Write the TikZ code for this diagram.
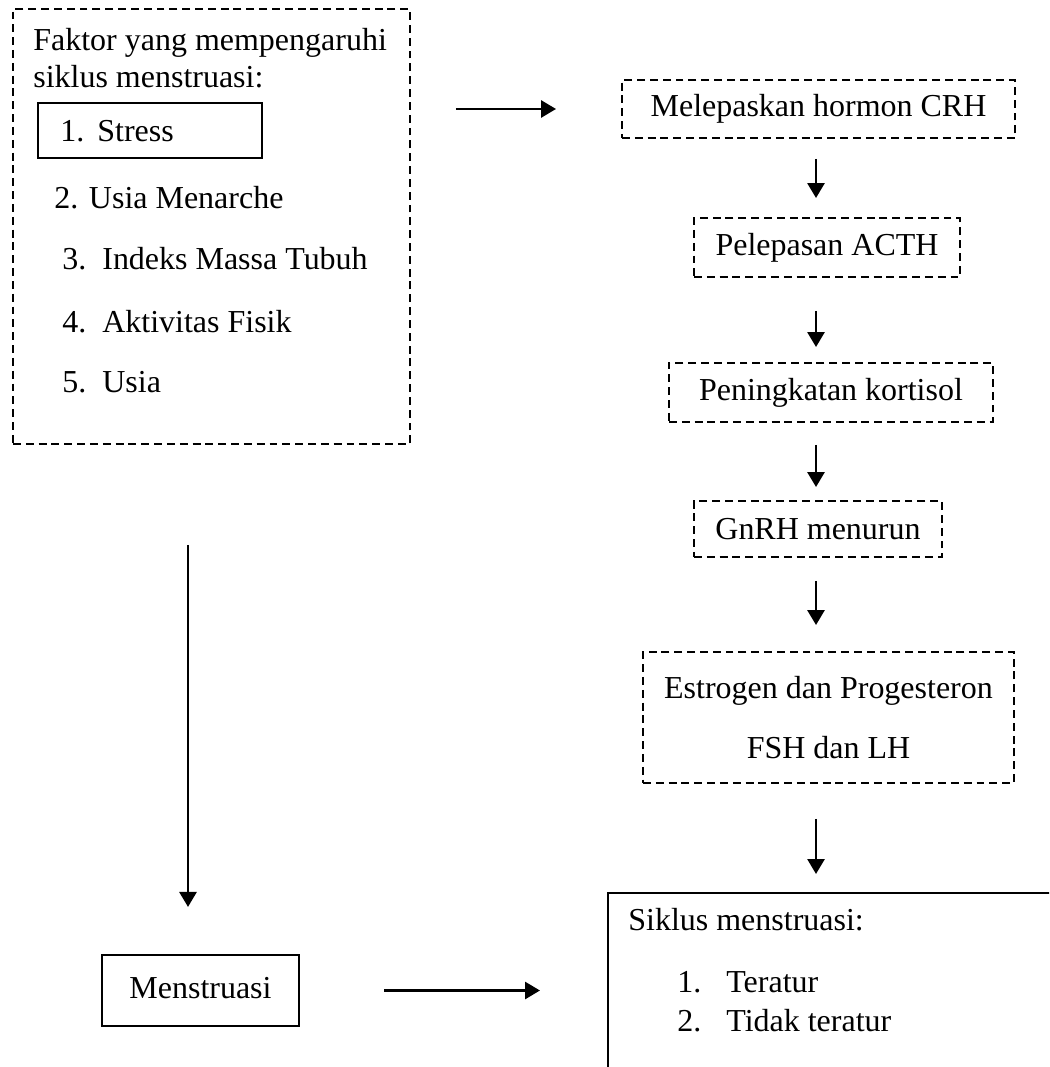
\documentclass[tikz,border=0pt]{standalone}
\usepackage{fontspec}
\setmainfont{Liberation Serif}
\usetikzlibrary{arrows.meta}

\begin{document}
\begin{tikzpicture}[font=\fontsize{18.2}{22}\selectfont,
  dbox/.style={draw, dash pattern=on 4.5pt off 2.8pt, line width=1.1pt, inner sep=0pt},
  sbox/.style={draw, line width=1.2pt, inner sep=0pt},
  txt/.style={anchor=base west, inner sep=0pt},
  arr/.style={line width=1.6pt, -{Triangle[length=0.3cm,width=0.34cm]}}]

\useasboundingbox (0,0) rectangle (20.98,-21.34);
\clip (0,0) rectangle (20.98,-21.34);

% factors
\node[dbox, minimum width=7.94cm, minimum height=8.7cm] (faktor) at (4.23,-4.53) {};
\node[txt] (ftitle1) at (0.66,-1.02) {Faktor yang mempengaruhi};
\node[txt] (ftitle2) at (0.66,-1.76) {siklus menstruasi:};
\node[sbox, minimum width=4.48cm, minimum height=1.1cm] (stress) at (3.0,-2.61) {};
\node[txt] (num1) at (1.2,-2.84) {1.};
\node[txt] (item1) at (1.94,-2.84) {Stress};
\node[txt] (item2) at (1.08,-4.18) {2. Usia Menarche};
\foreach \i/\y/\t in {3/-5.4/Indeks Massa Tubuh, 4/-6.64/Aktivitas Fisik, 5/-7.84/Usia}
{
  \node[txt] (num\i) at (1.24,\y) {\i.};
  \node[txt] (item\i) at (2.04,\y) {\t};
}

% hormone chain
\coordinate (axis) at (16.32,0);
\node[dbox, minimum width=7.86cm, minimum height=1.16cm] (crh) at (16.37,-2.18) {Melepaskan hormon CRH};
\node[dbox, minimum width=5.32cm, minimum height=1.18cm] (acth) at (16.54,-4.95) {Pelepasan ACTH};
\node[dbox, minimum width=6.48cm, minimum height=1.18cm] (kortisol) at (16.62,-7.85) {Peningkatan kortisol};
\node[dbox, minimum width=4.96cm, minimum height=1.12cm] (gnrh) at (16.36,-10.58) {GnRH menurun};
\node[dbox, minimum width=7.42cm, minimum height=2.62cm, align=center] (estrogen) at (16.57,-14.35)
  {Estrogen dan Progesteron\\[0.42cm]FSH dan LH};

% result
\node[sbox, minimum width=9.5cm, minimum height=4.2cm, anchor=north west] (siklus) at (12.14,-17.84) {};
\node[txt] (stitle) at (12.56,-18.6) {Siklus menstruasi:};
\node[txt] (snum1) at (13.54,-19.84) {1.};
\node[txt] (sitem1) at (14.52,-19.84) {Teratur};
\node[txt] (snum2) at (13.54,-20.62) {2.};
\node[txt] (sitem2) at (14.52,-20.62) {Tidak teratur};

\node[sbox, minimum width=3.94cm, minimum height=1.42cm, text depth=0.3em] (mens) at (4.01,-19.81) {Menstruasi};
\coordinate (laxis) at (3.76,0);

% arrows
\draw[arr, shorten <=0.9cm, shorten >=1.3cm] (faktor.east |- crh.west) -- (crh.west);
\foreach \a/\b/\s/\e in {crh/acth/0.4/0.38, acth/kortisol/0.66/0.3, kortisol/gnrh/0.44/0.26,
                         gnrh/estrogen/0.46/0.52, estrogen/siklus/0.7/0.36}
  \draw[arr, shorten <=\s cm, shorten >=\e cm] (\a.south -| axis) -- (\b.north -| axis);
\draw[arr, shorten <=2cm, shorten >=0.94cm] (faktor.south -| laxis) -- (mens.north -| laxis);
\draw[arr, shorten <=1.68cm, shorten >=1.34cm] (mens.east) -- (mens.east -| siklus.west);

\end{tikzpicture}
\end{document}
